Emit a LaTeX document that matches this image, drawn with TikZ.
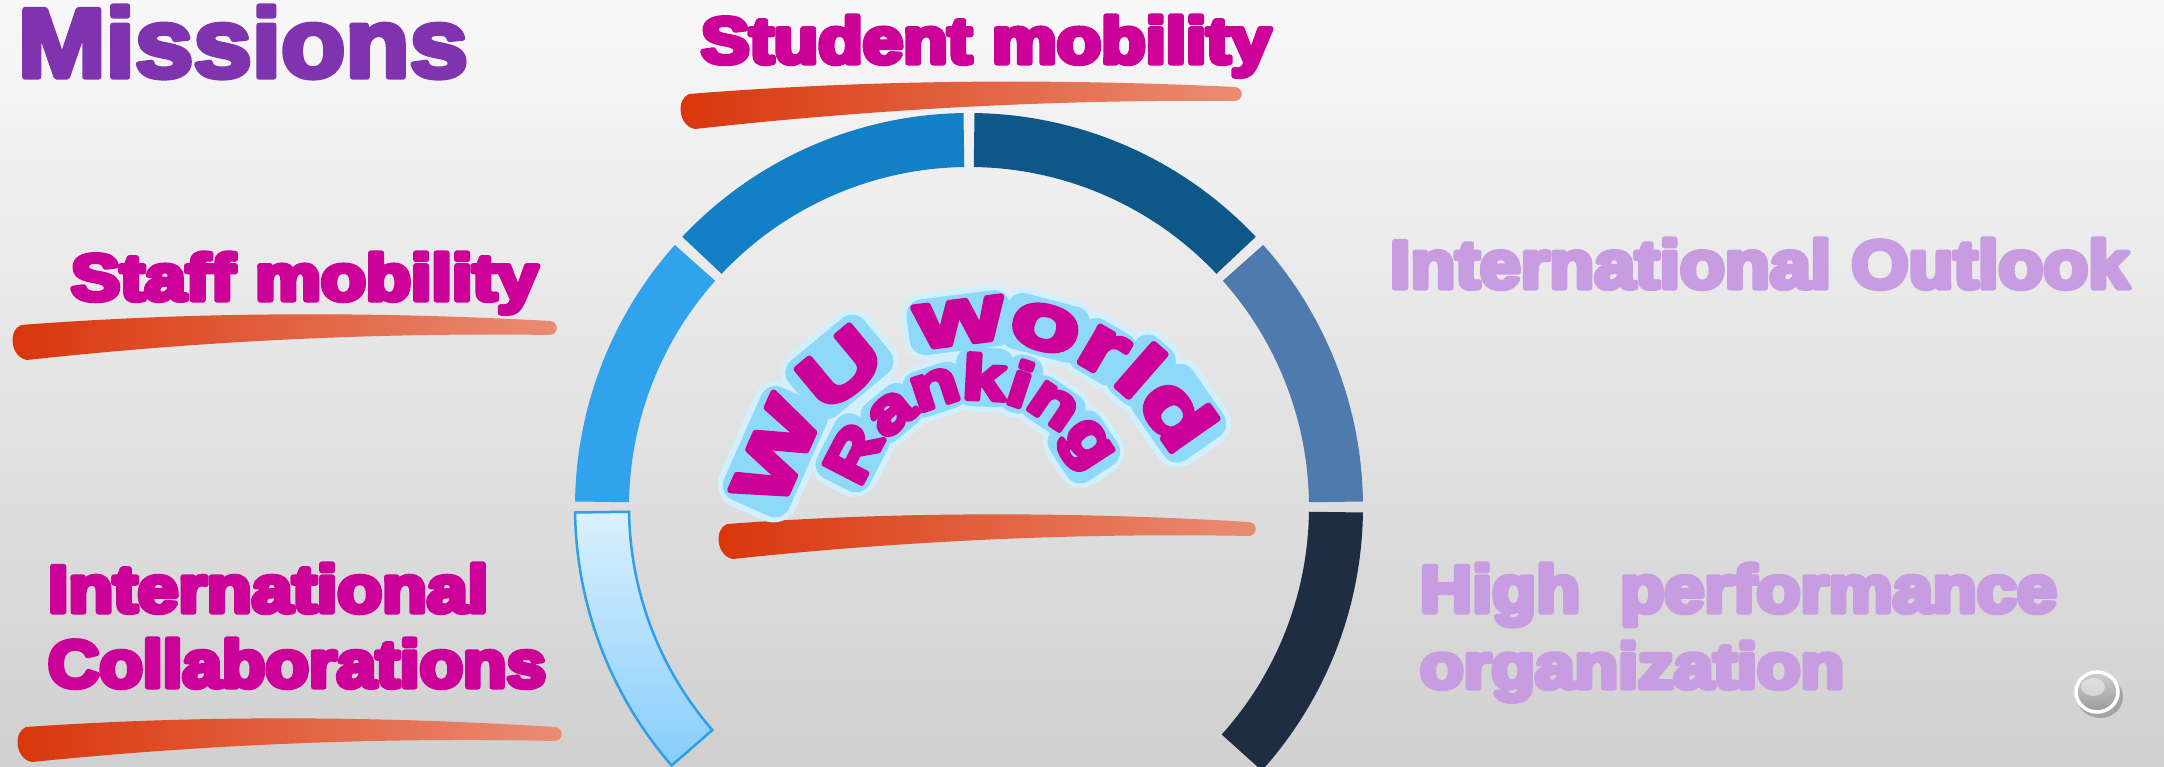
\documentclass[tikz,border=0pt]{standalone}
\usepackage{fontspec}
\newfontfamily\labfont{Liberation Sans}
\newfontfamily\wufont[FakeStretch=1.465]{Liberation Sans}
\newfontfamily\rkfont[FakeStretch=1.26]{Liberation Sans}

\definecolor{bgtop}{HTML}{F8F8F8}
\definecolor{bgbot}{HTML}{D0D0D0}
\definecolor{brushA}{HTML}{D9350B}
\definecolor{brushB}{HTML}{EA8D74}
\definecolor{segSteel}{HTML}{4F7AAD}
\definecolor{segDark}{HTML}{0E5889}
\definecolor{segMid}{HTML}{137FC5}
\definecolor{segLight}{HTML}{31A3EC}
\definecolor{segNavy}{HTML}{1F2D42}
\definecolor{paleTop}{HTML}{DBF0FE}
\definecolor{paleBot}{HTML}{86CDFB}
\definecolor{paleEdge}{HTML}{2E9FE9}
\definecolor{mag}{HTML}{CC0099}
\definecolor{lav}{HTML}{C89CE0}
\definecolor{purp}{HTML}{7F33AF}
\definecolor{glow}{HTML}{8FD9F8}

\newlength\pxu
\setlength\pxu{0.01cm}
\newcommand\strk[1]{\special{pdf:literal direct 2 Tr #1 w 1 j}}
\newcommand\strkoff{\special{pdf:literal direct 0 Tr}}
\newcommand\wusetup{\wufont\bfseries\fontsize{22pt}{22pt}\selectfont}
\newcommand\rksetup{\rkfont\bfseries\fontsize{17.5pt}{17.5pt}\selectfont}

% name, x, Y, W, H, colour, font size, text
\newcommand\lbl[8]{%
  \node[lab] (#1) at (#2,#3)
    {\resizebox{#4\pxu}{#5\pxu}{\labfont\bfseries\fontsize{#7}{#7}\selectfont\color{#6}\strk{1.5}#8\strkoff}};}

% x1, yleft, x2, yright
\newcommand\brush[4]{%
  \shade[left color=brushA, middle color=brushA, right color=brushB]
    ({#1+12},{#2-19}) .. controls ({#1-5},{#2-16}) and ({#1-7},{#2+11}) .. ({#1+6},{#2+16})
    .. controls ({#1+(#3-#1)/3},{#2+(#4-#2)/3+25}) and ({#1+2*(#3-#1)/3},{#2+2*(#4-#2)/3+21}) .. ({#3-3},{#4+7})
    .. controls ({#3+6},{#4+6}) and ({#3+6},{#4-6}) .. ({#3-3},{#4-7})
    .. controls ({#1+2*(#3-#1)/3},{#2+2*(#4-#2)/3}) and ({#1+(#3-#1)/3},{#2+(#4-#2)/3-5}) .. ({#1+12},{#2-19}) -- cycle;}

% start angle, end angle, style
\newcommand\seg[3]{%
  \path[#3] ([shift={(C)}]#1:394) arc[start angle=#1, end angle=#2, radius=394]
    -- ([shift={(C)}]#2:340) arc[start angle=#2, end angle=#1, radius=340] -- cycle;}

% glow patch: centre, angle, centre radius, width, height, margin, style
\newcommand\gl[7]{%
  \fill[#7, shift={(#1)}, rotate=#2-90]
    ({-(#4)/2-#6},{#3-(#5)/2-#6}) rectangle ({(#4)/2+#6},{#3+(#5)/2+#6});}
% arched letter: name, centre, angle, baseline radius, font setup, char, stroke
\newcommand\lt[7]{%
  \path[shift={(#2)}, rotate=#3-90] (0,#4)
    node[anchor=base, transform shape, inner sep=0pt, outer sep=0pt] (#1) {#5\color{mag}\strk{#7}#6\strkoff};}

\newcommand\wuglows[2]{%
  \gl{W}{156.1}{232.7}{106.9}{55.4}{#1}{#2}
  \gl{W}{129.7}{232.7}{81.8}{55.4}{#1}{#2}
  \gl{W}{97.2}{225.1}{88.1}{40.1}{#1}{#2}
  \gl{W}{75.3}{225.5}{69.2}{41.0}{#1}{#2}
  \gl{W}{59.5}{225.3}{44.1}{40.5}{#1}{#2}
  \gl{W}{48.9}{232.7}{31.5}{55.4}{#1}{#2}
  \gl{W}{34.9}{232.2}{69.2}{56.4}{#1}{#2}}
\newcommand\rkglows[2]{%
  \gl{R}{152.75}{140.0}{56.0}{44.0}{#1}{#2}
  \gl{R}{129.5}{134.3}{43.1}{32.5}{#1}{#2}
  \gl{R}{108.2}{134.1}{47.4}{32.2}{#1}{#2}
  \gl{R}{87.0}{140.0}{43.1}{44.0}{#1}{#2}
  \gl{R}{71.8}{140.0}{21.6}{44.0}{#1}{#2}
  \gl{R}{55.6}{134.1}{47.4}{32.2}{#1}{#2}
  \gl{R}{33.3}{127.8}{47.4}{45.4}{#1}{#2}}

\tikzset{
  lab/.style={anchor=base west, inner sep=0pt, outer sep=0pt},
  glowout/.style={fill=glow!40!white, rounded corners=7pt},
  glowin/.style={fill=glow, rounded corners=4.5pt}
}

\begin{document}
\begin{tikzpicture}[x=0.01cm, y=0.01cm]
\useasboundingbox (0,0) rectangle (2164,767);
\shade[top color=bgtop, bottom color=bgbot] (0,0) rectangle (2164,767);

% brush strokes
\brush{683}{657}{1238}{673}
\brush{15}{426}{553}{439}
\brush{721}{227}{1252}{238}
\brush{20}{24}{558}{33}

% ring
\coordinate (C) at (969,260);
\seg{0.8}{41.7}{fill=segSteel}
\seg{43.3}{89.2}{fill=segDark}
\seg{90.8}{136.7}{fill=segMid}
\seg{138.3}{179.2}{fill=segLight}
\seg{-42}{-0.8}{fill=segNavy}
\seg{180.8}{221}{top color=paleTop, bottom color=paleBot, draw=paleEdge, line width=0.025cm}

% glass button
\fill[black, opacity=0.22] (2100,70) ellipse[x radius=23, y radius=21];
\shade[top color=black!18, bottom color=black!40] (2097,75) ellipse[x radius=22, y radius=21];
\draw[white, line width=0.035cm] (2097,75) ellipse[x radius=21, y radius=20];
\fill[white, opacity=0.45] (2093,80) ellipse[x radius=12, y radius=9];

% arched title: glow first, letters after
\coordinate (W) at (988,221);
\coordinate (R) at (977,250);
\wuglows{14}{glowout}
\rkglows{13}{glowout}
\wuglows{8}{glowin}
\rkglows{7.5}{glowin}
\lt{wu1}{W}{156.1}{205}{\wusetup}{W}{1.8}
\lt{wu2}{W}{129.7}{205}{\wusetup}{U}{1.8}
\lt{wu3}{W}{97.2}{205}{\wusetup}{w}{1.8}
\lt{wu4}{W}{75.3}{205}{\wusetup}{o}{1.8}
\lt{wu5}{W}{59.5}{205}{\wusetup}{r}{1.8}
\lt{wu6}{W}{48.9}{205}{\wusetup}{l}{1.8}
\lt{wu7}{W}{34.9}{205}{\wusetup}{d}{1.8}
\lt{rk1}{R}{152.75}{118}{\rksetup}{R}{1.5}
\lt{rk2}{R}{129.5}{118}{\rksetup}{a}{1.5}
\lt{rk3}{R}{108.2}{118}{\rksetup}{n}{1.5}
\lt{rk4}{R}{87.0}{118}{\rksetup}{k}{1.5}
\lt{rk5}{R}{71.8}{118}{\rksetup}{i}{1.5}
\lt{rk6}{R}{55.6}{118}{\rksetup}{n}{1.5}
\lt{rk7}{R}{33.3}{118}{\rksetup}{g}{1.5}

% labels
\lbl{missions}{18}{690}{450}{71}{purp}{28}{Missions}
\lbl{student}{701}{704}{570}{47}{mag}{18.5}{Student mobility}
\lbl{staff}{71}{467}{467}{47}{mag}{18.5}{Staff mobility}
\lbl{intlA}{48}{155}{440}{48}{mag}{19}{International}
\lbl{intlB}{48}{80}{498}{48}{mag}{19}{Collaborations}
\lbl{outlook}{1390}{479}{739}{49}{lav}{19.5}{International Outlook}
\lbl{highA}{1420}{155}{637}{48}{lav}{19}{High\ \ performance}
\lbl{highB}{1420}{79}{424}{46}{lav}{18.5}{organization}
\end{tikzpicture}
\end{document}
